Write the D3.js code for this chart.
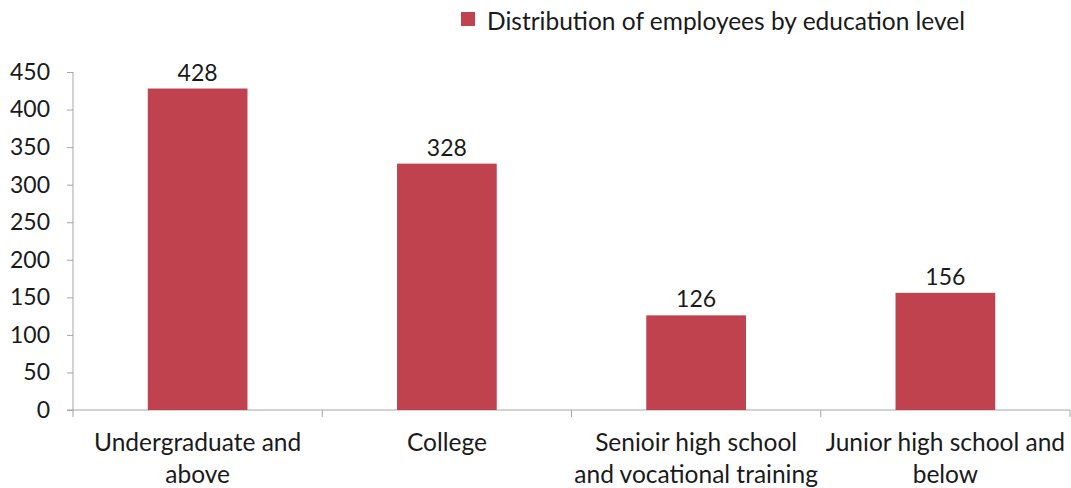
<!DOCTYPE html>
<html><head><meta charset="utf-8">
<script src="https://cdn.jsdelivr.net/npm/d3@7"></script>
<style>body{margin:0;background:#fff}svg{display:block}text{font-family:Lato,"Open Sans",sans-serif;fill:#1a1a1a}</style>
</head><body>
<svg id="c" width="1071" height="488"></svg>
<script>
const categories = ["Undergraduate and above", "College", "Senioir high school and vocational training", "Junior high school and below"];
const categoryLines = [["Undergraduate and", "above"], ["College"], ["Senioir high school", "and vocational training"], ["Junior high school and", "below"]];
const values = [428, 328, 126, 156];
const yTicks = [0, 50, 100, 150, 200, 250, 300, 350, 400, 450];
const seriesName = "Distribution of employees by education level";

const svg = d3.select("#c");
const color = "#C0424F", axisColor = "#A6A6A6";
const x = d3.scaleBand().domain(categories).range([73, 1070]).paddingInner(0.6).paddingOuter(0.3);
const y = d3.scaleLinear().domain([0, 450]).range([410, 72]);

// y axis
const ya = svg.append("g").attr("transform", "translate(73,0)")
  .call(d3.axisLeft(y).tickValues(yTicks).tickSize(6).tickPadding(17));
ya.select(".domain").attr("stroke", axisColor).attr("d", "M0,72V410");
ya.selectAll(".tick line").attr("stroke", axisColor);
ya.selectAll(".tick text").attr("font-size", 23).attr("fill", "#1a1a1a").style("font-family", "Lato, sans-serif");

// x axis
const band = x.step();
const xa = svg.append("g");
xa.append("line").attr("x1", 67).attr("x2", 1070).attr("y1", 410).attr("y2", 410).attr("stroke", axisColor);
const bounds = categories.map((c, i) => x(c) - (band - x.bandwidth()) / 2);
bounds.push(bounds[bounds.length - 1] + band);
xa.selectAll(".tk").data(bounds).join("line").attr("class", "tk")
  .attr("x1", d => d).attr("x2", d => d).attr("y1", 410).attr("y2", 417).attr("stroke", axisColor);

categories.forEach((c, i) => {
  const cx = x(c) + x.bandwidth() / 2;
  categoryLines[i].forEach((ln, j) => {
    svg.append("text").attr("x", cx).attr("y", 451 + j * 32).attr("text-anchor", "middle")
      .attr("font-size", 24.5).text(ln);
  });
});

// bars
svg.selectAll(".bar").data(values).join("rect").attr("class", "bar")
  .attr("x", (d, i) => x(categories[i])).attr("width", x.bandwidth())
  .attr("y", d => y(d)).attr("height", d => y(0) - y(d)).attr("fill", color);

svg.selectAll(".lbl").data(values).join("text").attr("class", "lbl")
  .attr("x", (d, i) => x(categories[i]) + x.bandwidth() / 2).attr("y", d => y(d) - 8)
  .attr("text-anchor", "middle").attr("font-size", 23).text(d => d);

// legend
svg.append("rect").attr("x", 461).attr("y", 12).attr("width", 14).attr("height", 14).attr("fill", color);
svg.append("text").attr("x", 487).attr("y", 30).attr("font-size", 24.5).text(seriesName);
</script>
</body></html>
